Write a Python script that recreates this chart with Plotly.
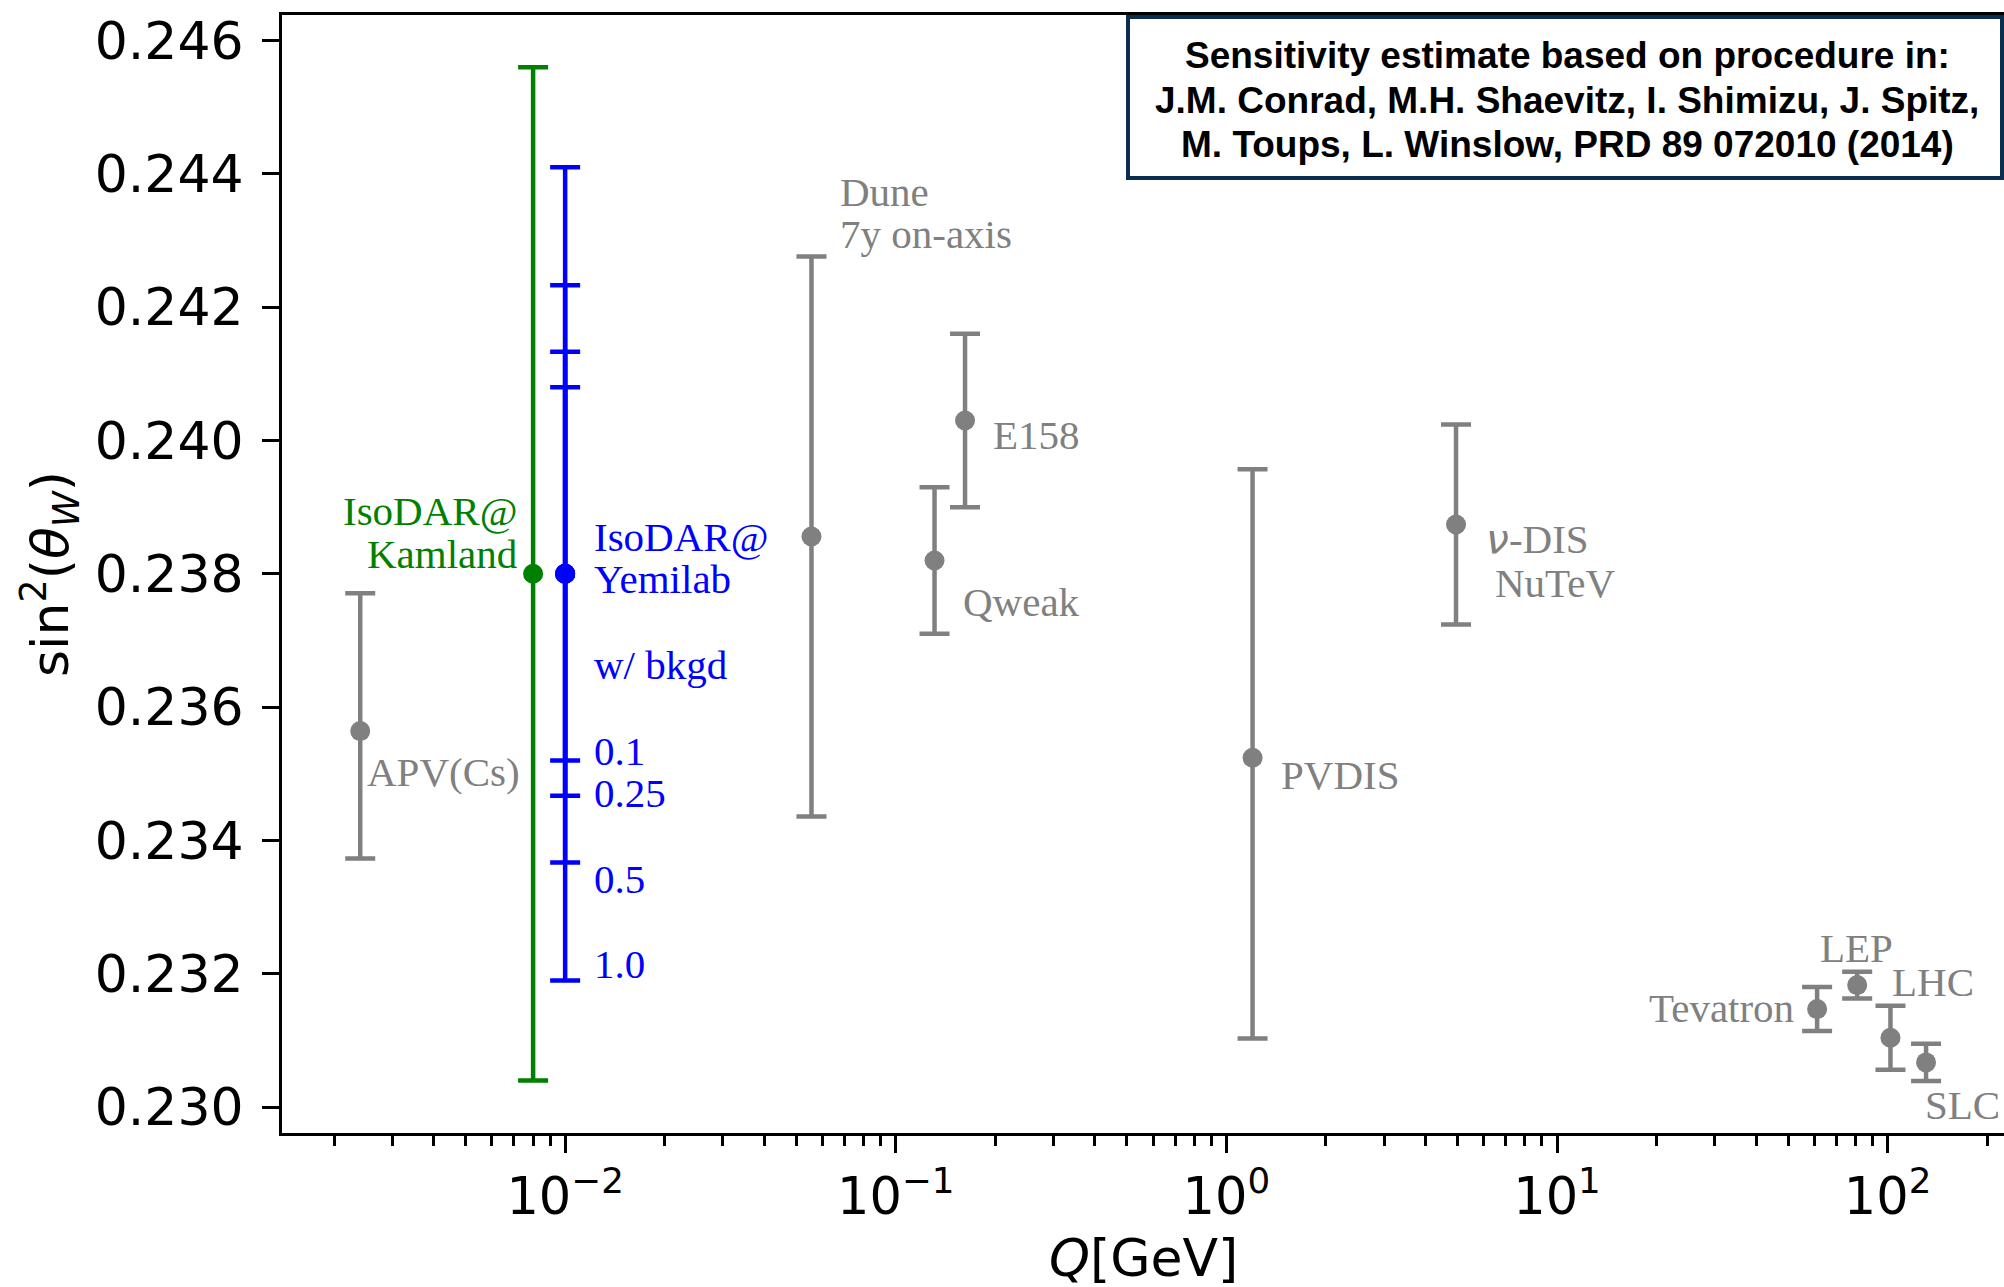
import numpy as np
import plotly.graph_objects as go

# ---- measurements of sin^2(theta_W) vs momentum transfer Q ----
grey_names = ["APV(Cs)", "Dune", "Qweak", "E158", "PVDIS", "NuTeV",
              "Tevatron", "LEP", "LHC", "SLC"]
grey_q = [0.0024, 0.0556, 0.131, 0.162, 1.2, 4.95, 61.2, 80.9, 102.0, 130.7]
grey_s2w = [0.23564, 0.23856, 0.2382, 0.2403, 0.23524, 0.23874,
            0.23147, 0.23183, 0.23104, 0.23067]
grey_err_up = [0.00207, 0.0042, 0.0011, 0.0013, 0.00433, 0.0015,
               0.00033, 0.0002, 0.00048, 0.00028]
grey_err_down = [0.00191, 0.0042, 0.0011, 0.0013, 0.00421, 0.0015,
                 0.00033, 0.0002, 0.00048, 0.00028]

kamland_q = [0.008]
kamland_s2w = [0.238]
kamland_err = [0.0076]

yemilab_q = 0.01
yemilab_s2w = 0.238
bkgd_levels = ["0.1", "0.25", "0.5", "1.0"]
bkgd_err = [0.0028, 0.00333, 0.00433, 0.0061]

# ---- text labels: (text, log10 Q, sin^2, xanchor, colour) ----
GREY, GREEN, BLUE = "#808080", "#008000", "#0000ff"
label_text = ["IsoDAR@", "Kamland", "IsoDAR@", "Yemilab", "w/ bkgd",
              "0.1", "0.25", "0.5", "1.0",
              "Dune", "7y on-axis", "E158", "Qweak", "APV(Cs)", "PVDIS",
              '<span style="font-family:DejaVu Sans"><i>ν</i></span>-DIS', "NuTeV",
              "Tevatron", "LEP", "LHC", "SLC"]
label_logq = [-2.142, -2.142, -1.916, -1.916, -1.916,
              -1.916, -1.916, -1.916, -1.916,
              -1.172, -1.172, -0.710, -0.799, -2.602, 0.161,
              0.782, 0.808,
              1.721, 1.905, 2.011, 2.111]
label_y = [0.238937, 0.238293, 0.238552, 0.237929, 0.236630,
           0.235344, 0.234719, 0.233420, 0.232147,
           0.243727, 0.243098, 0.240079, 0.237577, 0.235020, 0.234986,
           0.238525, 0.237867,
           0.231483, 0.232390, 0.231880, 0.230037]
label_anchor = ["right", "right", "left", "left", "left",
                "left", "left", "left", "left",
                "left", "left", "left", "left", "left", "left",
                "left", "left",
                "right", "center", "left", "left"]
label_color = [GREEN, GREEN, BLUE, BLUE, BLUE,
               BLUE, BLUE, BLUE, BLUE] + [GREY] * 12

box_lines = ["Sensitivity estimate based on procedure in:",
             "J.M. Conrad, M.H. Shaevitz, I. Shimizu, J. Spitz,",
             "M. Toups, L. Winslow, PRD 89 072010 (2014)"]

W, H = 2004, 1287
ML, MR, MT, MB = 282, 0, 15, 154
PW, PH = W - ML - MR, H - MT - MB

LW = 4.5
CAP = 15
MS = 20

fig = go.Figure()

fig.add_trace(go.Scatter(
    x=grey_q, y=grey_s2w, mode="markers",
    marker=dict(color=GREY, size=MS),
    error_y=dict(type="data", symmetric=False, array=grey_err_up,
                 arrayminus=grey_err_down, color=GREY,
                 thickness=LW, width=CAP),
    showlegend=False, hoverinfo="skip"))

fig.add_trace(go.Scatter(
    x=kamland_q, y=kamland_s2w, mode="markers",
    marker=dict(color=GREEN, size=MS),
    error_y=dict(type="data", array=kamland_err, color=GREEN,
                 thickness=LW, width=CAP),
    showlegend=False, hoverinfo="skip"))

fig.add_trace(go.Scatter(
    x=[yemilab_q] * len(bkgd_err), y=[yemilab_s2w] * len(bkgd_err),
    mode="markers",
    marker=dict(color=BLUE, size=MS),
    error_y=dict(type="data", array=bkgd_err, color=BLUE,
                 thickness=LW, width=CAP),
    showlegend=False, hoverinfo="skip"))

annotations = []
for t, lx, ly, xa, c in zip(label_text, label_logq, label_y, label_anchor, label_color):
    annotations.append(dict(
        x=lx, y=ly, xref="x", yref="y", text=t, showarrow=False,
        xanchor=xa, yanchor="middle", borderpad=0,
        font=dict(family="Liberation Serif, Times New Roman, serif", size=41, color=c)))

# reference box in the top-right corner
box_y = [1 - (55 - MT) / PH, 1 - (100 - MT) / PH, 1 - (144 - MT) / PH]
for t, yy in zip(box_lines, box_y):
    annotations.append(dict(
        x=(1567 - ML) / PW, y=yy, xref="paper", yref="paper", text="<b>" + t + "</b>",
        showarrow=False, xanchor="center", yanchor="middle", borderpad=0,
        font=dict(family="Liberation Sans Narrow, Arial Narrow, Liberation Sans, sans-serif",
                  size=37, color="black")))

# axis titles
annotations.append(dict(
    x=(50 - ML) / PW, y=0.5, xref="paper", yref="paper",
    text="sin<sup>2</sup>(<i>θ</i><sub><i>W</i></sub>)", textangle=-90,
    showarrow=False, xanchor="center", yanchor="middle",
    font=dict(family="DejaVu Sans", size=52, color="black")))
annotations.append(dict(
    x=(1143 - ML) / PW, y=-(1258 - (MT + PH)) / PH, xref="paper", yref="paper",
    text="<i>Q</i>[GeV]", showarrow=False, xanchor="center", yanchor="middle",
    font=dict(family="DejaVu Sans", size=52, color="black")))

shapes = [dict(
    type="rect", xref="paper", yref="paper",
    x0=(1128 - ML) / PW, x1=(2002 - ML) / PW,
    y0=1 - (178 - MT) / PH, y1=1 - (17 - MT) / PH,
    line=dict(color="#0b2d50", width=4), fillcolor="white", layer="above")]

major = [1e-2, 1e-1, 1e0, 1e1, 1e2]
major_txt = ["10<sup>−2</sup>", "10<sup>−1</sup>", "10<sup>0</sup>",
             "10<sup>1</sup>", "10<sup>2</sup>"]
minor = [m * 10.0 ** e for e in range(-3, 3) for m in range(2, 10)]

fig.update_layout(
    width=W, height=H,
    margin=dict(l=ML, r=MR, t=MT, b=MB, pad=0),
    paper_bgcolor="white", plot_bgcolor="white",
    annotations=annotations, shapes=shapes,
    xaxis=dict(
        type="log", range=[-2.8564, 2.352],
        showgrid=False, zeroline=False,
        showline=True, linecolor="black", linewidth=3, mirror=True,
        ticks="outside", ticklen=17, tickwidth=3, tickcolor="black",
        tickvals=major, ticktext=major_txt,
        tickfont=dict(family="DejaVu Sans", size=51, color="black"),
        minor=dict(tickvals=minor, ticks="outside", ticklen=10,
                   tickwidth=2.5, tickcolor="black", showgrid=False),
    ),
    yaxis=dict(
        range=[0.229611, 0.246383],
        showgrid=False, zeroline=False,
        showline=True, linecolor="black", linewidth=3, mirror=False,
        ticks="outside", ticklen=17, tickwidth=3, tickcolor="black",
        ticklabelstandoff=8,
        tickvals=[0.230, 0.232, 0.234, 0.236, 0.238, 0.240, 0.242, 0.244, 0.246],
        tickformat=".3f",
        tickfont=dict(family="DejaVu Sans", size=52, color="black"),
    ),
)

fig.write_html("out.html")
